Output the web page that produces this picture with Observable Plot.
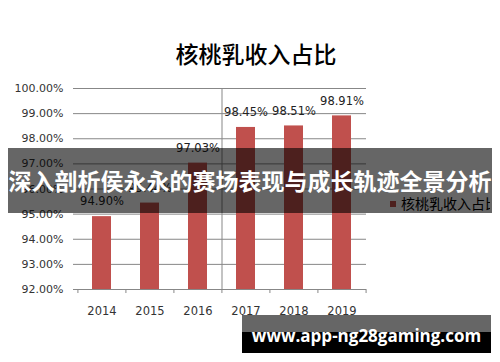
<!DOCTYPE html>
<html><head><meta charset="utf-8">
<script src="https://cdn.jsdelivr.net/npm/d3@7"></script>
<script src="https://cdn.jsdelivr.net/npm/@observablehq/plot@0.6"></script>
<style>
html,body{margin:0;padding:0;background:#fff;}
#wrap{position:relative;width:500px;height:362px;overflow:hidden;}
#wrap svg{position:absolute;left:0;top:0;}
.title{position:absolute;left:0;width:512px;top:37px;text-align:center;font-family:"Noto Sans CJK SC";font-size:23px;font-weight:500;color:#000;line-height:32px;}
.legend{position:absolute;left:390px;top:193px;width:100px;overflow:hidden;white-space:nowrap;font-family:"Noto Sans CJK SC";font-size:14px;line-height:20px;color:#000;}
.legend i{display:inline-block;width:6px;height:6px;background:#c0504d;margin-right:5px;vertical-align:middle;position:relative;top:-1px;}
.banner{position:absolute;left:8px;width:484px;top:148px;height:65px;background:rgba(0,0,0,0.6);color:#fff;font-family:"Noto Sans CJK SC";font-weight:700;font-size:23px;line-height:65px;text-align:center;white-space:nowrap;overflow:hidden;}
.wm1{position:absolute;left:242px;width:249px;top:315px;height:17px;background:rgba(0,0,0,0.6);}
.wm2{position:absolute;left:242px;width:249px;top:332px;height:21px;background:#000;}
.wmt{position:absolute;left:242px;width:249px;top:324px;text-align:center;color:#fff;font-family:"Open Sans";font-weight:700;font-size:17px;line-height:24px;white-space:nowrap;}
</style>
</head><body>
<div id="wrap"></div>
<script>
const years = ["2014","2015","2016","2017","2018","2019"];
const values = [94.90, 95.44, 97.03, 98.45, 98.51, 98.91];
const yTicks = [92, 93, 94, 95, 96, 97, 98, 99, 100];
const titleText = "核桃乳收入占比";
const legendText = "核桃乳收入占比";
const bannerText = "深入剖析侯永永的赛场表现与成长轨迹全景分析";
const watermarkText = "www.app-ng28gaming.com";

const data = years.map((y, i) => ({year: y, value: values[i]}));
const fmt = d => d.toFixed(2) + "%";
const step = (366 - 77) / years.length;

const chart = Plot.plot({
  width: 500,
  height: 362,
  marginLeft: 77,
  marginRight: 134,
  marginTop: 88,
  marginBottom: 73,
  style: {fontFamily: "DejaVu Sans", fontSize: "11px", color: "#333", background: "transparent"},
  x: {domain: years, paddingInner: 0.6, paddingOuter: 0.3, label: null},
  y: {domain: [92, 100], label: null},
  marks: [
    Plot.ruleY(yTicks.filter(t => t > 92), {stroke: "#878787", strokeWidth: 1}),
    Plot.barY(data, {x: "year", y1: 92, y2: "value", fill: "#c0504d"}),
    Plot.text(data, {x: "year", y: "value", text: d => fmt(d.value), dy: -15, fill: "#222", fontSize: 11.5}),
    Plot.axisY({ticks: yTicks, tickFormat: fmt, tickSize: 4, tickPadding: 10, stroke: "#878787", fill: "#333", label: null}),
    Plot.ruleX([0], {frameAnchor: "left", stroke: "#878787", y1: 92, y2: 100, x: null}),
    Plot.ruleY([92], {stroke: "#878787"}),
    Plot.ruleX(years, {x: d => d, dx: -step / 2, y1: 92, y2: 91.84, stroke: "#878787"}),
    Plot.ruleX([years[years.length - 1]], {x: d => d, dx: step / 2, y1: 92, y2: 91.84, stroke: "#878787"}),
    Plot.axisX({tickSize: 0, tickPadding: 17, fill: "#333", fontSize: 11.5, label: null})
  ]
});
const wrap = document.getElementById("wrap");
wrap.appendChild(chart);

function addDiv(cls, html) {
  const d = document.createElement("div");
  d.className = cls;
  d.innerHTML = html;
  wrap.appendChild(d);
}
addDiv("title", titleText);
addDiv("legend", "<i></i>" + legendText);
addDiv("banner", bannerText);
addDiv("wm1", "");
addDiv("wm2", "");
addDiv("wmt", watermarkText);
</script>
</body></html>
